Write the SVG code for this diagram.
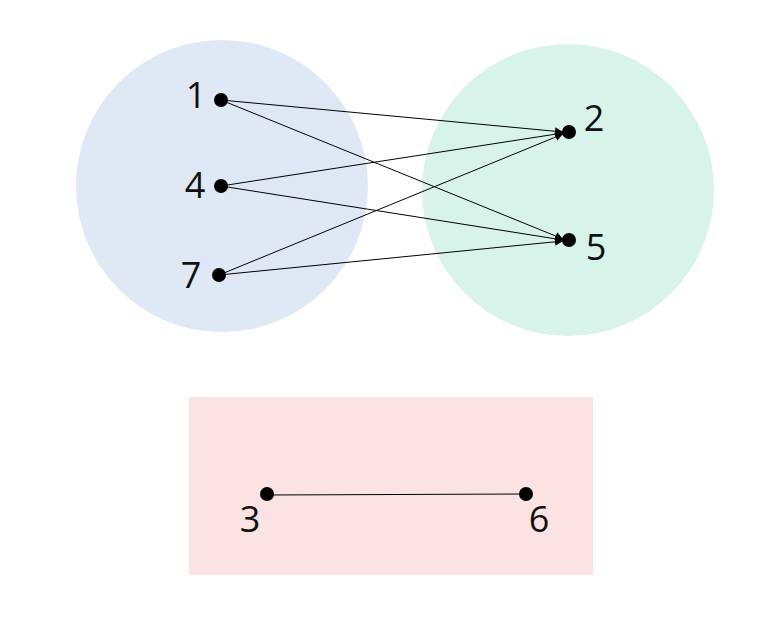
<svg xmlns="http://www.w3.org/2000/svg" width="782" height="636" viewBox="0 0 782 636">
<style>
.lbl{font-family:"Open Sans","Noto Sans",sans-serif;font-size:36px;fill:#111;text-anchor:middle}
.dot{fill:#000}
.e{stroke:#000;stroke-width:1;fill:none}
</style>
<defs>
<marker id="ah" viewBox="0 0 10 10" refX="10" refY="5" markerWidth="8" markerHeight="8" markerUnits="userSpaceOnUse" orient="auto">
<path d="M0,0 L10,5 L0,10 z" fill="#000"/>
</marker>
</defs>
<rect width="782" height="636" fill="#fff"/>
<g id="groupA"><circle cx="222" cy="186" r="146" fill="#dfe9f5"/></g>
<g id="groupB"><circle cx="568" cy="190" r="146" fill="#d8f3ea"/></g>
<g id="groupC"><rect x="189" y="397" width="404" height="178" fill="#fbe2e3"/></g>
<g id="edges">
<line class="e" x1="221" y1="100" x2="563" y2="132" marker-end="url(#ah)"/>
<line class="e" x1="221" y1="100" x2="563" y2="239" marker-end="url(#ah)"/>
<line class="e" x1="221" y1="186" x2="563" y2="133" marker-end="url(#ah)"/>
<line class="e" x1="221" y1="186" x2="563" y2="240" marker-end="url(#ah)"/>
<line class="e" x1="219" y1="275" x2="563" y2="134" marker-end="url(#ah)"/>
<line class="e" x1="219" y1="275" x2="563" y2="241" marker-end="url(#ah)"/>
<line class="e" x1="267" y1="495" x2="526" y2="494"/>
</g>
<g id="n1"><circle class="dot" cx="221" cy="100" r="7"/><text class="lbl" x="196" y="108">1</text></g>
<g id="n4"><circle class="dot" cx="221" cy="186" r="7"/><text class="lbl" x="195" y="198">4</text></g>
<g id="n7"><circle class="dot" cx="219" cy="275" r="7"/><text class="lbl" x="191" y="288">7</text></g>
<g id="n2"><circle class="dot" cx="569" cy="132" r="7"/><text class="lbl" x="594" y="131">2</text></g>
<g id="n5"><circle class="dot" cx="569" cy="240" r="7"/><text class="lbl" x="596" y="260">5</text></g>
<g id="n3"><circle class="dot" cx="267" cy="494" r="7"/><text class="lbl" x="250" y="532">3</text></g>
<g id="n6"><circle class="dot" cx="526" cy="494" r="7"/><text class="lbl" x="539" y="532">6</text></g>
</svg>
